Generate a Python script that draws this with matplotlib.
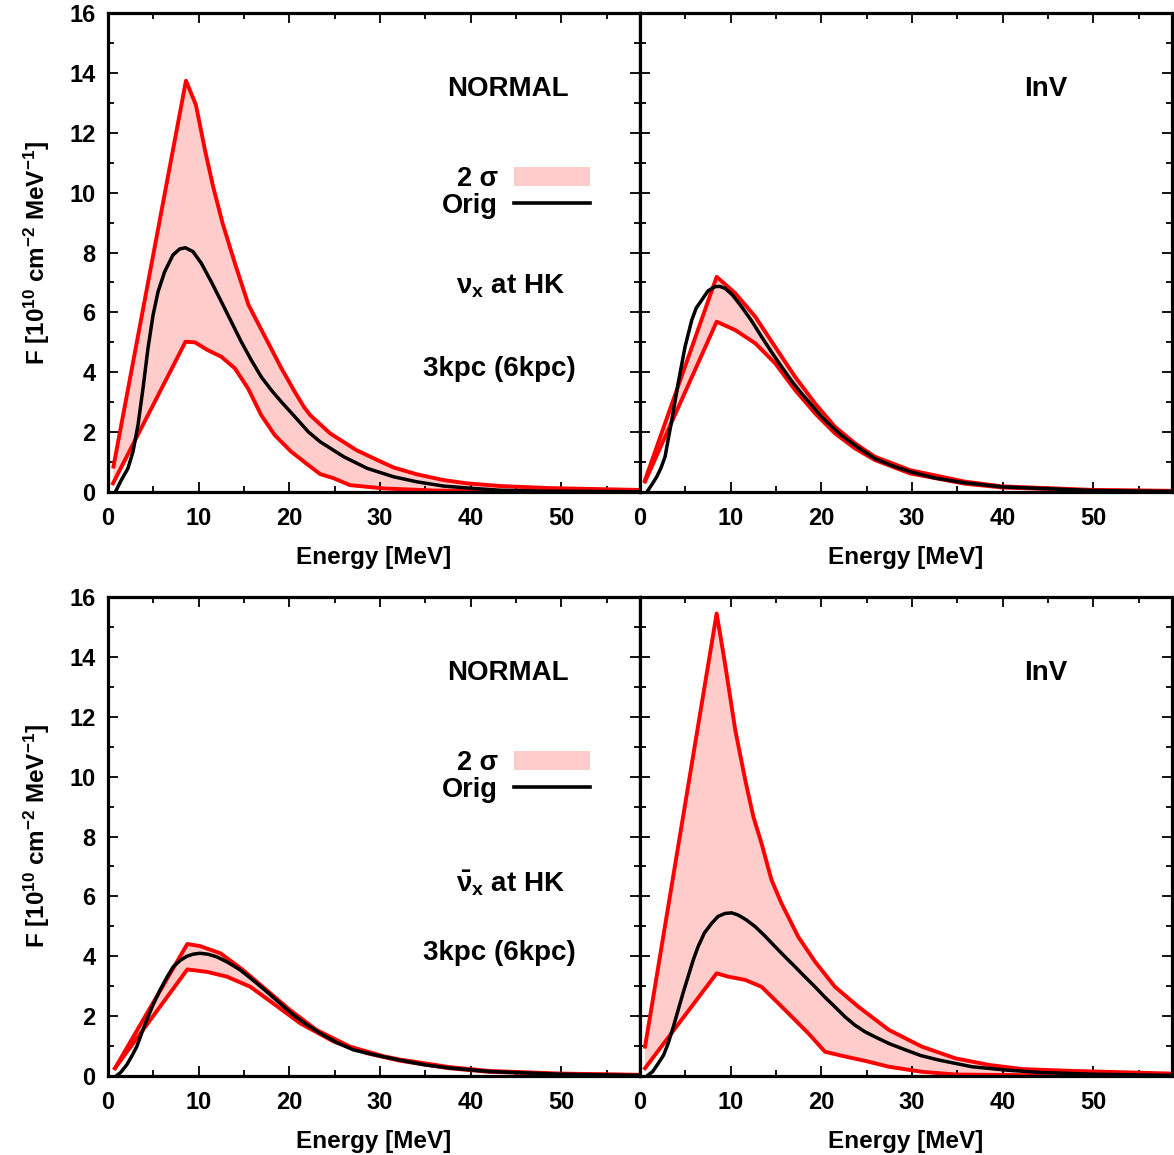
import numpy as np
import matplotlib.pyplot as plt
from matplotlib.patches import Patch
from matplotlib.lines import Line2D
from matplotlib.ticker import MultipleLocator

# nu_x, normal hierarchy (top left)
nx_nor_up_e = [0.6, 8.6, 9.7, 10.7, 11.6, 12.65, 14.0, 15.5, 17.3, 19.1, 20.6, 21.6, 22.3, 24.5,
               27.4, 29.7, 31.5, 34.1, 37.0, 39.6, 43.3, 48.8, 58.7]
nx_nor_up_f = [0.85, 13.74, 12.93, 11.42, 10.2, 8.97, 7.64, 6.25, 5.2, 4.15, 3.35, 2.85, 2.57, 1.96,
               1.40, 1.07, 0.82, 0.59, 0.40, 0.29, 0.20, 0.13, 0.07]
nx_nor_lo_e = [0.55, 8.55, 9.6, 11.0, 12.5, 14.0, 15.45, 16.9, 18.4, 20.2, 22.1, 23.4, 24.9, 26.7,
               30.4, 36.0, 45.0, 58.7]
nx_nor_lo_f = [0.29, 5.02, 5.0, 4.74, 4.52, 4.13, 3.46, 2.57, 1.90, 1.35, 0.90, 0.60, 0.46, 0.23,
               0.12, 0.05, 0.02, 0.01]
nx_nor_orig_e = [0.8, 0.92, 1.47, 2.2, 2.76, 3.31, 3.86, 4.41, 4.97, 5.52, 6.25, 7.17, 7.91, 8.54,
                 9.38, 10.3, 11.4, 12.5, 13.6, 14.7, 15.8, 16.9, 18.0, 19.1, 20.6, 22.1, 23.4,
                 26.0, 28.6, 31.5, 34.1, 37.0, 40.3, 43.3, 48.0, 58.7]
nx_nor_orig_f = [0.0, 0.07, 0.40, 0.79, 1.35, 2.24, 3.46, 4.80, 5.91, 6.69, 7.36, 7.92, 8.12, 8.16,
                 8.03, 7.64, 7.02, 6.36, 5.69, 5.02, 4.41, 3.85, 3.41, 3.02, 2.52, 2.01, 1.68,
                 1.18, 0.79, 0.51, 0.34, 0.20, 0.12, 0.06, 0.03, 0.01]

# nu_x, inverted hierarchy (top right)
nx_inv_up_e = [0.55, 8.45, 10.5, 12.7, 14.9, 17.1, 19.3, 21.5, 23.7, 25.9, 29.8, 35.8, 39.9, 50.0,
               58.7]
nx_inv_up_f = [0.40, 7.19, 6.64, 5.86, 4.85, 3.85, 2.96, 2.18, 1.63, 1.18, 0.73, 0.35, 0.19, 0.07,
               0.04]
nx_inv_lo_e = [0.55, 8.45, 10.5, 12.7, 14.9, 17.1, 19.3, 21.5, 23.7, 25.9, 29.8, 35.8, 40.0, 50.0,
               58.7]
nx_inv_lo_f = [0.35, 5.69, 5.41, 4.97, 4.30, 3.41, 2.63, 1.96, 1.46, 1.07, 0.62, 0.28, 0.15, 0.05,
               0.03]
nx_inv_orig_e = [0.75, 1.3, 1.84, 2.3, 2.76, 3.1, 3.5, 4.2, 4.96, 5.7, 6.2, 6.8, 7.5, 8.27, 8.8,
                 9.4, 10.2, 11.2, 12.3, 13.4, 14.5, 15.6, 16.7, 17.8, 19.0, 20.0, 21.1, 22.2,
                 24.0, 25.9, 27.8, 29.8, 32.5, 35.8, 40.0, 50.0, 58.7]
nx_inv_orig_f = [0.0, 0.25, 0.51, 0.8, 1.18, 1.75, 2.4, 3.63, 4.85, 5.74, 6.15, 6.41, 6.72, 6.86,
                 6.87, 6.80, 6.58, 6.19, 5.72, 5.19, 4.68, 4.19, 3.72, 3.30, 2.88, 2.52, 2.20,
                 1.90, 1.50, 1.12, 0.88, 0.68, 0.47, 0.31, 0.17, 0.05, 0.02]

# anti nu_x, normal hierarchy (bottom left)
anx_nor_up_e = [0.77, 8.75, 10.15, 12.4, 14.9, 17.5, 20.1, 23.0, 26.7, 30.4, 32.2, 37.6, 42.0,
                50.0, 58.7]
anx_nor_up_f = [0.26, 4.41, 4.34, 4.10, 3.54, 2.87, 2.20, 1.54, 0.98, 0.66, 0.55, 0.30, 0.17,
                0.08, 0.04]
anx_nor_lo_e = [0.77, 8.75, 10.9, 13.1, 15.7, 18.2, 21.2, 24.9, 28.6, 32.2, 37.6, 42.0, 50.0, 58.7]
anx_nor_lo_f = [0.26, 3.56, 3.48, 3.32, 2.98, 2.43, 1.76, 1.15, 0.76, 0.51, 0.26, 0.14, 0.06, 0.03]
anx_nor_orig_e = [0.9, 1.4, 2.06, 2.6, 3.17, 3.7, 4.27, 5.0, 5.74, 6.5, 7.2, 8.0, 8.7, 9.4, 10.15,
                  11.0, 12.0, 13.2, 14.6, 16.0, 17.5, 19.0, 20.45, 21.9, 23.4, 25.2, 27.1, 29.5,
                  32.2, 35.0, 37.6, 42.0, 50.0, 58.7]
anx_nor_orig_f = [0.0, 0.12, 0.37, 0.65, 0.98, 1.42, 1.87, 2.40, 2.87, 3.30, 3.65, 3.87, 4.0, 4.07,
                  4.10, 4.07, 3.98, 3.80, 3.54, 3.20, 2.82, 2.42, 2.04, 1.72, 1.43, 1.12, 0.87,
                  0.70, 0.53, 0.37, 0.27, 0.15, 0.06, 0.02]

# anti nu_x, inverted hierarchy (bottom right)
anx_inv_up_e = [0.55, 8.45, 9.37, 10.5, 11.6, 12.5, 13.4, 14.5, 15.6, 17.45, 19.3, 21.5, 24.1,
                27.45, 31.1, 34.8, 38.5, 42.2, 47.7, 58.7]
anx_inv_up_f = [0.98, 15.45, 13.78, 11.56, 9.89, 8.66, 7.77, 6.55, 5.77, 4.65, 3.82, 2.98, 2.31,
                1.54, 0.98, 0.59, 0.37, 0.23, 0.17, 0.08]
anx_inv_lo_e = [0.55, 8.45, 9.7, 11.6, 13.4, 15.25, 17.1, 18.55, 20.4, 22.2, 24.9, 27.45, 31.1,
                34.8, 45.0, 58.7]
anx_inv_lo_f = [0.26, 3.43, 3.32, 3.21, 2.98, 2.43, 1.87, 1.43, 0.81, 0.68, 0.50, 0.31, 0.14,
                0.05, 0.02, 0.01]
anx_inv_orig_e = [0.75, 1.4, 2.0, 2.6, 3.1, 3.65, 4.2, 4.75, 5.3, 5.85, 6.4, 7.1, 7.9, 8.6, 9.37,
                  10.1, 10.8, 11.7, 12.7, 13.8, 14.9, 16.0, 17.1, 18.2, 19.3, 20.4, 21.5, 22.6,
                  23.7, 24.8, 25.9, 27.5, 29.3, 31.0, 33.0, 36.6, 40.3, 44.0, 50.0, 58.7]
anx_inv_orig_f = [0.0, 0.15, 0.42, 0.70, 1.09, 1.62, 2.2, 2.78, 3.32, 3.86, 4.32, 4.78, 5.10, 5.33,
                  5.43, 5.45, 5.38, 5.22, 4.99, 4.67, 4.32, 3.98, 3.65, 3.31, 2.98, 2.63, 2.31,
                  1.98, 1.70, 1.48, 1.31, 1.08, 0.87, 0.68, 0.53, 0.31, 0.20, 0.12, 0.06, 0.02]

x_ticks = [0, 10, 20, 30, 40, 50]
y_ticks = [0, 2, 4, 6, 8, 10, 12, 14, 16]

plt.rcParams['font.family'] = ['Liberation Sans', 'DejaVu Sans']
plt.rcParams['font.weight'] = 'bold'
plt.rcParams['axes.labelweight'] = 'bold'
plt.rcParams['mathtext.fontset'] = 'custom'
plt.rcParams['mathtext.rm'] = 'Liberation Sans:bold'
plt.rcParams['mathtext.bf'] = 'Liberation Sans:bold'
plt.rcParams['mathtext.it'] = 'Liberation Sans:bold'
plt.rcParams['mathtext.default'] = 'bf'

RED = '#ff0000'
PINK = '#ffcccc'


def draw_panel(ax, up_e, up_f, lo_e, lo_f, orig_e, orig_f, left):
    # band between the two red curves
    band_e = np.concatenate([up_e, lo_e[::-1]])
    band_f = np.concatenate([up_f, lo_f[::-1]])
    ax.fill(band_e, band_f, color=PINK, lw=0, zorder=1)
    ax.plot(up_e, up_f, color=RED, lw=2.8, solid_joinstyle='round', zorder=2)
    ax.plot(lo_e, lo_f, color=RED, lw=2.8, solid_joinstyle='round', zorder=2)
    ax.plot(orig_e, orig_f, color='black', lw=2.5, solid_joinstyle='round', zorder=3)

    ax.set_xlim(0, 58.7)
    ax.set_ylim(0, 16)
    ax.set_xticks(x_ticks)
    ax.set_yticks(y_ticks)
    ax.xaxis.set_minor_locator(MultipleLocator(5))
    ax.yaxis.set_minor_locator(MultipleLocator(1))
    ax.tick_params(which='both', direction='in', top=True, right=True, width=1.3,
                   labelsize=17)
    ax.tick_params(axis='x', pad=11)
    ax.tick_params(axis='y', pad=9)
    ax.tick_params(which='major', length=7)
    ax.tick_params(which='minor', length=4)
    for s in ax.spines.values():
        s.set_linewidth(2.3)
        s.set_zorder(5)
    ax.set_xlabel('Energy [MeV]', fontsize=17.5, labelpad=11)
    if left:
        ax.set_ylabel(r'F [10$^{10}$ cm$^{-2}$ MeV$^{-1}$]', fontsize=17.5, labelpad=12)
    else:
        ax.tick_params(labelleft=False)


fig = plt.figure(figsize=(11.74, 11.55), dpi=100)
ax_tl = fig.add_axes([0.0920, 0.5740, 0.4532, 0.4147])
ax_tr = fig.add_axes([0.5452, 0.5740, 0.4532, 0.4147])
ax_bl = fig.add_axes([0.0920, 0.0684, 0.4532, 0.4147])
ax_br = fig.add_axes([0.5452, 0.0684, 0.4532, 0.4147])

draw_panel(ax_tl, nx_nor_up_e, nx_nor_up_f, nx_nor_lo_e, nx_nor_lo_f,
           nx_nor_orig_e, nx_nor_orig_f, True)
draw_panel(ax_tr, nx_inv_up_e, nx_inv_up_f, nx_inv_lo_e, nx_inv_lo_f,
           nx_inv_orig_e, nx_inv_orig_f, False)
draw_panel(ax_bl, anx_nor_up_e, anx_nor_up_f, anx_nor_lo_e, anx_nor_lo_f,
           anx_nor_orig_e, anx_nor_orig_f, True)
draw_panel(ax_br, anx_inv_up_e, anx_inv_up_f, anx_inv_lo_e, anx_inv_lo_f,
           anx_inv_orig_e, anx_inv_orig_f, False)

# labels inside the panels
for ax in (ax_tl, ax_bl):
    ax.text(0.752, 0.842, 'NORMAL', transform=ax.transAxes, ha='center', va='center', fontsize=20)
    ax.text(0.735, 0.257, '3kpc (6kpc)', transform=ax.transAxes, ha='center', va='center',
            fontsize=20)
    handles = [Patch(facecolor=PINK, edgecolor='none'), Line2D([], [], color='black', lw=2.6)]
    ax.legend(handles, ['2 σ', 'Orig'], loc='upper right', bbox_to_anchor=(0.906, 0.68),
              frameon=False, markerfirst=False, fontsize=19.5, handlelength=2.8,
              handletextpad=0.6, labelspacing=0.02, borderpad=0, borderaxespad=0)
for ax in (ax_tr, ax_br):
    ax.text(0.763, 0.842, 'InV', transform=ax.transAxes, ha='center', va='center', fontsize=20)

ax_tl.text(0.756, 0.43, r'$\nu_x$ at HK', transform=ax_tl.transAxes, ha='center', va='center',
           fontsize=20)
ax_bl.text(0.756, 0.403, r'$\bar{\nu}_x$ at HK', transform=ax_bl.transAxes, ha='center',
           va='center', fontsize=20)

fig.savefig('out.png', dpi=100)
